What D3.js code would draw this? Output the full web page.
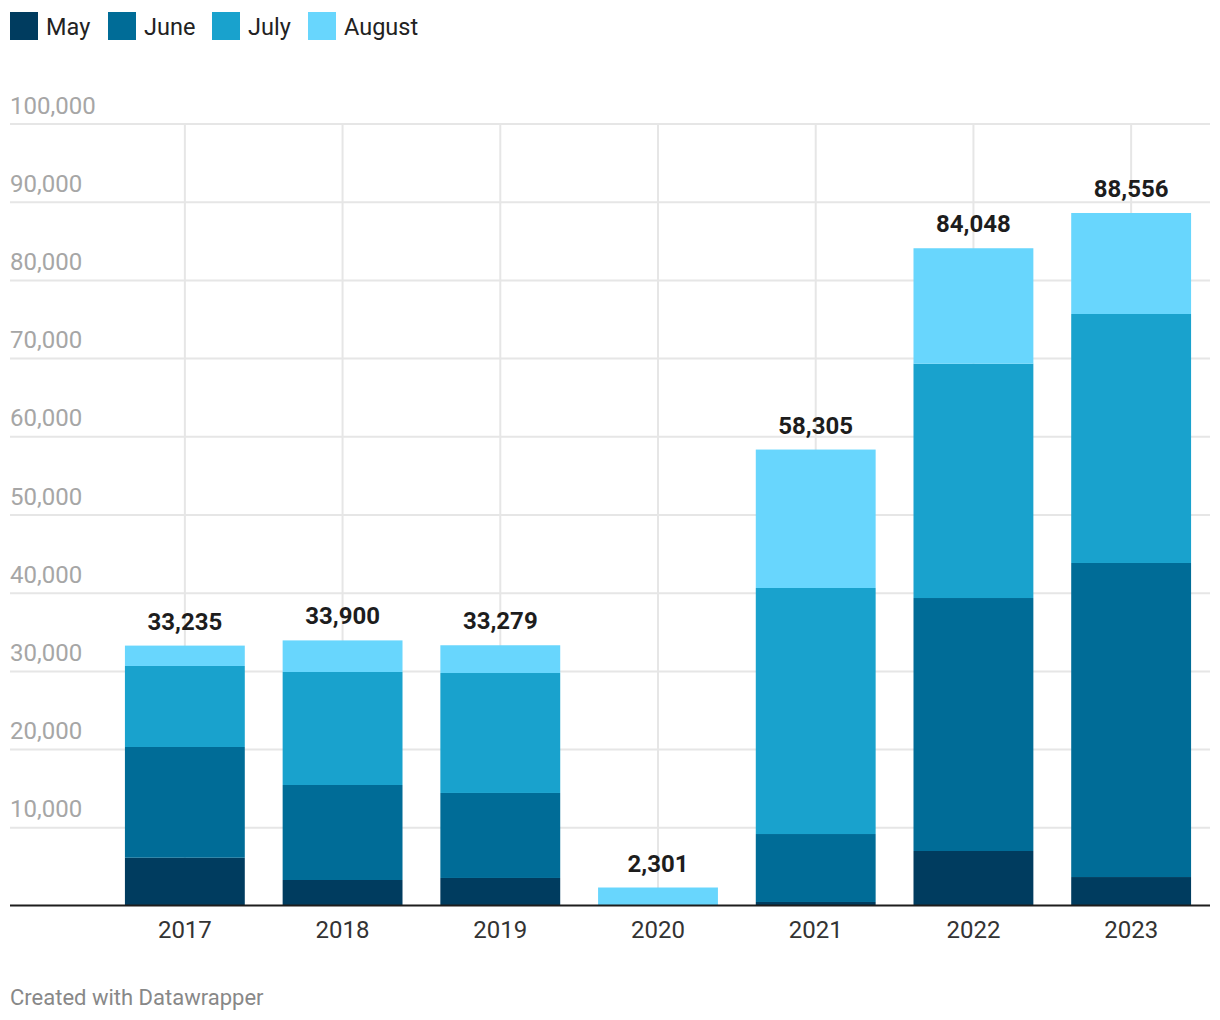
<!DOCTYPE html>
<html>
<head>
<meta charset="utf-8">
<script src="https://cdn.jsdelivr.net/npm/d3@7"></script>
<style>
  html, body { margin: 0; padding: 0; background: #fff; }
  svg { display: block; font-family: Roboto, "Noto Sans", sans-serif; }
</style>
</head>
<body>
<svg id="chart" width="1220" height="1020"></svg>
<script>
const years = ["2017", "2018", "2019", "2020", "2021", "2022", "2023"];
const seriesNames = ["May", "June", "July", "August"];
const may    = [6110, 3260, 3520, 0, 450, 6970, 3640];
const june   = [14160, 12150, 10870, 0, 8690, 32350, 40160];
const july   = [10360, 14450, 15340, 0, 31460, 29960, 31840];
const august = [2605, 4040, 3549, 2301, 17705, 14768, 12916];
const totals = [33235, 33900, 33279, 2301, 58305, 84048, 88556];
const yTicks = [10000, 20000, 30000, 40000, 50000, 60000, 70000, 80000, 90000, 100000];
const colors = ["#003c5f", "#006c97", "#19a2cd", "#68d6fd"];

const rows = years.map((y, i) => ({ year: y, May: may[i], June: june[i], July: july[i], August: august[i], total: totals[i] }));

const svg = d3.select("#chart");
const x = d3.scaleBand().domain(years).range([106, 1210]).paddingInner(0.24).paddingOuter(0.12);
const y = d3.scaleLinear().domain([0, 100000]).range([905.5, 123.5]);
const color = d3.scaleOrdinal().domain(seriesNames).range(colors);

// Horizontal grid
const yAxis = d3.axisLeft(y).tickValues(yTicks).tickSize(0).tickFormat(d3.format(","));
const gy = svg.append("g").call(yAxis);
gy.select(".domain").remove();
gy.selectAll(".tick line").remove();
gy.selectAll(".tick").each(function(d) {
  const t = d3.select(this);
  t.insert("line", "text").attr("x1", 10).attr("x2", 1210).attr("y1", 0).attr("y2", 0)
    .attr("stroke", "#e6e6e6").attr("stroke-width", 2);
});
gy.selectAll(".tick text")
  .attr("x", 10).attr("dy", -10.5).attr("text-anchor", "start")
  .attr("fill", "#a6a6a6").style("font-size", "24px")
  .style("font-family", "Roboto, sans-serif");

// Vertical grid at band centers
svg.append("g").selectAll("line").data(years).join("line")
  .attr("x1", d => x(d) + x.bandwidth() / 2).attr("x2", d => x(d) + x.bandwidth() / 2)
  .attr("y1", y(100000)).attr("y2", y(0))
  .attr("stroke", "#e6e6e6").attr("stroke-width", 2);

// Stacked bars
const stack = d3.stack().keys(seriesNames)(rows);
svg.append("g").selectAll("g").data(stack).join("g")
  .attr("fill", d => color(d.key))
  .selectAll("rect").data(d => d).join("rect")
  .attr("x", d => x(d.data.year))
  .attr("width", x.bandwidth())
  .attr("y", d => y(d[1]))
  .attr("height", d => Math.max(0, y(d[0]) - y(d[1])));

// Baseline
svg.append("line").attr("x1", 10).attr("x2", 1210).attr("y1", y(0)).attr("y2", y(0))
  .attr("stroke", "#1d1d1d").attr("stroke-width", 2);

// X axis labels
const xAxis = d3.axisBottom(x).tickSize(0);
const gx = svg.append("g").attr("transform", `translate(0,${y(0)})`).call(xAxis);
gx.select(".domain").remove();
gx.selectAll(".tick text").attr("y", 0).attr("dy", 32)
  .attr("fill", "#333").style("font-size", "24px").style("font-family", "Roboto, sans-serif");

// Totals labels
svg.append("g").selectAll("text").data(rows).join("text")
  .attr("x", d => x(d.year) + x.bandwidth() / 2)
  .attr("y", d => y(d.total) - 16)
  .attr("text-anchor", "middle")
  .attr("fill", "#1d1d1d")
  .style("font-size", "24px").style("font-weight", "bold")
  .text(d => d3.format(",")(d.total));

// Legend
const legendX = [10, 108, 212, 308];
const lg = svg.append("g").selectAll("g").data(seriesNames).join("g")
  .attr("transform", (d, i) => `translate(${legendX[i]},12)`);
lg.append("rect").attr("width", 28).attr("height", 28).attr("fill", d => color(d));
lg.append("text").attr("x", 36).attr("y", 22.5).attr("fill", "#222")
  .style("font-size", "23.5px").text(d => d);

// Footer
svg.append("text").attr("x", 10).attr("y", 1004.5).attr("fill", "#888")
  .style("font-size", "22px").text("Created with Datawrapper");
</script>
</body>
</html>
